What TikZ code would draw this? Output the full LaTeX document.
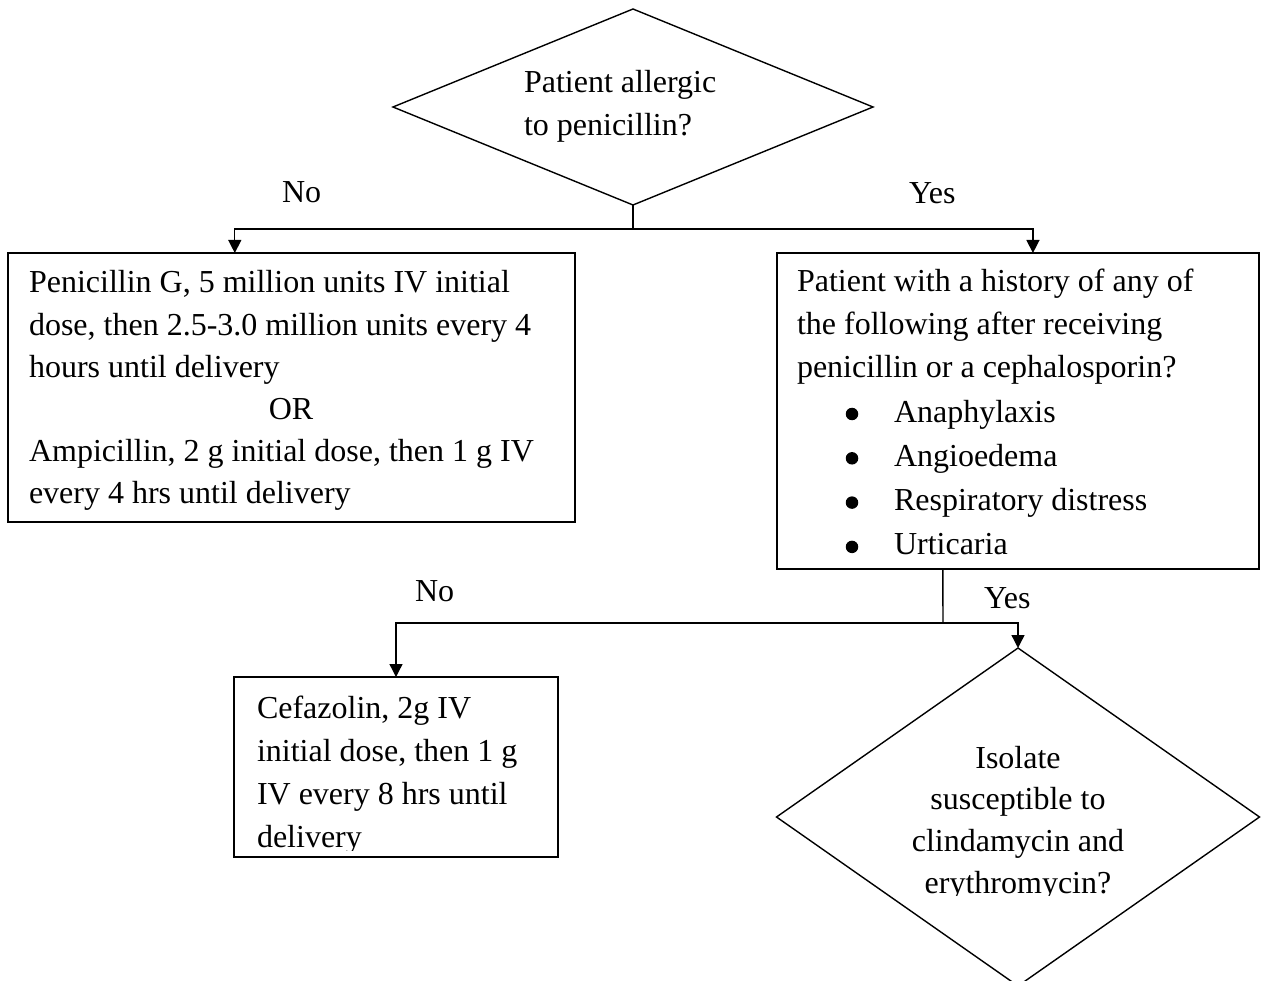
\documentclass[tikz,border=0pt]{standalone}
\usepackage{fontspec}
\setmainfont{Liberation Serif}
\usetikzlibrary{shapes.geometric,arrows.meta,calc}
% fixed natural word spaces inside aligned nodes
\newcommand{\natspace}{\spaceskip=\fontdimen2\font\xspaceskip=\fontdimen2\font\relax}
\begin{document}
\begin{tikzpicture}[x=1pt,y=-1pt,
  line width=1.4pt,
  box/.style={draw, rectangle, inner sep=0pt, outer sep=0pt, anchor=north west},
  decision/.style={draw, diamond, inner sep=0pt, outer sep=0pt},
  txt/.style={inner sep=0pt, outer sep=0pt, align=left, anchor=base west},
  lbl/.style={inner sep=0pt, outer sep=0pt, anchor=base west, font=\fontsize{32}{40}\selectfont},
  dot/.style={circle, fill, draw=none, minimum size=12.5pt, inner sep=0pt},
  arr/.style={-{Triangle[length=13pt,width=13pt]}},
]
\useasboundingbox (0,0) rectangle (1261,981);

% decision: allergy
\node[decision, minimum width=480pt, minimum height=196pt] (q1) at (633,107) {};
\node[txt, text width=220pt, font=\fontsize{32}{43}\selectfont] (q1txt) at (524,93)
  {\natspace Patient allergic\\ to penicillin?};

% treatment for non-allergic patients
\node[box, minimum width=567pt, minimum height=269pt] (pen) at (8,253) {};
\node[txt, text width=524pt, font=\fontsize{32}{42.2}\selectfont] (pentxt) at (29,293)
  {\natspace Penicillin G, 5 million units IV initial\\
   dose, then 2.5-3.0 million units every 4\\
   hours until delivery\\
   \makebox[\linewidth]{OR}\\
   Ampicillin, 2 g initial dose, then 1 g IV\\
   every 4 hrs until delivery};

% history of severe reactions
\node[box, minimum width=482pt, minimum height=316pt] (hist) at (777,253) {};
\node[txt, text width=440pt, font=\fontsize{32}{43}\selectfont] (histtxt) at (797,292)
  {\natspace Patient with a history of any of\\
   the following after receiving\\
   penicillin or a cephalosporin?};
\node[txt, text width=350pt, font=\fontsize{32}{44.3}\selectfont] (items) at (894,422)
  {\natspace Anaphylaxis\\
   Angioedema\\
   Respiratory distress\\
   Urticaria};
\node[dot] (b1) at (852,414) {};
\node[dot] (b2) at (852,458.3) {};
\node[dot] (b3) at (852,502.6) {};
\node[dot] (b4) at (852,546.9) {};

% cefazolin
\node[box, minimum width=324pt, minimum height=180pt] (cef) at (234,677) {};
\begin{scope}
  \clip (235,678) rectangle (557,850);
  \node[txt, text width=295pt, font=\fontsize{32}{43}\selectfont] (ceftxt) at (257,718)
    {\natspace Cefazolin, 2g IV\\
     initial dose, then 1 g\\
     IV every 8 hrs until\\
     delivery};
\end{scope}

% decision: susceptibility
\node[decision, minimum width=483pt, minimum height=338pt] (q2) at (1018,817) {};
\begin{scope}
  \clip (777,648) rectangle (1260,895);
  \node[txt, anchor=base, align=center, text width=330pt, font=\fontsize{32}{41.7}\selectfont] (q2txt) at (1018,768)
    {\natspace Isolate\\ susceptible to\\ clindamycin and\\ erythromycin?};
\end{scope}

% branch labels
\node[lbl] (no1) at (282,203) {No};
\node[lbl] (yes1) at (909,204) {Yes};
\node[lbl] (no2) at (415,601) {No};
\node[lbl] (yes2) at (984,608) {Yes};

% connectors
\coordinate (j1) at (633,229);
\draw (q1.south) -- (j1);
\draw[arr] (j1) -| ($(pen.north west)!0.4!(pen.north east)$);
\draw[arr] (j1) -| ($(hist.north west)!0.531!(hist.north east)$);

\coordinate (j2) at (943,623);
\draw ($(hist.south west)!0.344!(hist.south east)$) -- (j2);
\draw[arr] (j2) -| (cef.north);
\draw[arr] (j2) -| (q2.north);
\end{tikzpicture}
\end{document}
